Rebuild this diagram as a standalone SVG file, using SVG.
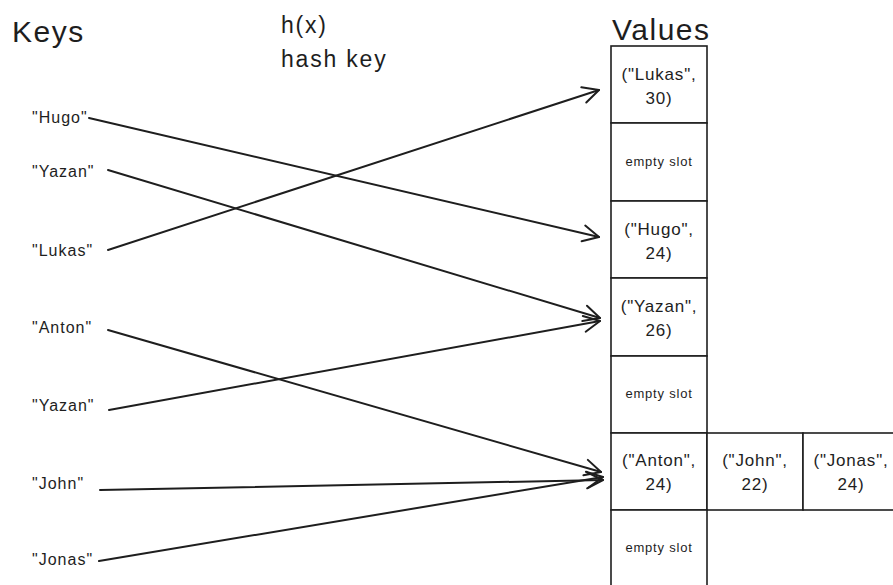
<svg xmlns="http://www.w3.org/2000/svg" width="893" height="585" viewBox="0 0 893 585">
<defs>
<marker id="ah" viewBox="0 0 20 20" refX="18" refY="10" markerWidth="20" markerHeight="20" markerUnits="userSpaceOnUse" orient="auto">
<path d="M2,2 L18,10 L2,18" fill="none" stroke="#1e1e1e" stroke-width="2" stroke-linecap="round" stroke-linejoin="round"/>
</marker>
<style>
text{font-family:"Liberation Sans","DejaVu Sans",sans-serif;fill:#1e1e1e}
.title{font-size:30px;letter-spacing:1.5px}
.hdr{font-size:23px;letter-spacing:1.8px}
.key{font-size:16px;letter-spacing:1px}
.val{font-size:17px;letter-spacing:0.8px;text-anchor:middle}
.empty{font-size:13px;letter-spacing:0.8px;text-anchor:middle}
.cell{fill:#fff;stroke:#1e1e1e;stroke-width:1.6}
.conn line{stroke:#1e1e1e;stroke-width:2;stroke-linecap:round;marker-end:url(#ah)}
</style>
</defs>
<rect width="893" height="585" fill="#fff"/>
<text class="title" x="12" y="42">Keys</text>
<text class="hdr" x="281" y="33">h(x)</text>
<text class="hdr" x="281" y="67">hash key</text>
<text class="title" x="612" y="40">Values</text>

<g id="k-hugo"><text class="key" x="32" y="123">"Hugo"</text></g>
<g id="k-yazan1"><text class="key" x="32" y="177">"Yazan"</text></g>
<g id="k-lukas"><text class="key" x="32" y="256">"Lukas"</text></g>
<g id="k-anton"><text class="key" x="32" y="333">"Anton"</text></g>
<g id="k-yazan2"><text class="key" x="32" y="411">"Yazan"</text></g>
<g id="k-john"><text class="key" x="32" y="489">"John"</text></g>
<g id="k-jonas"><text class="key" x="32" y="565">"Jonas"</text></g>

<g id="v0"><rect class="cell" x="611" y="46" width="96" height="77"/><text class="val" x="659" y="80">("Lukas",</text><text class="val" x="659" y="104">30)</text></g>
<g id="v1"><rect class="cell" x="611" y="123" width="96" height="78"/><text class="empty" x="659" y="166">empty slot</text></g>
<g id="v2"><rect class="cell" x="611" y="201" width="96" height="77"/><text class="val" x="659" y="235">("Hugo",</text><text class="val" x="659" y="259">24)</text></g>
<g id="v3"><rect class="cell" x="611" y="278" width="96" height="78"/><text class="val" x="659" y="312">("Yazan",</text><text class="val" x="659" y="336">26)</text></g>
<g id="v4"><rect class="cell" x="611" y="356" width="96" height="77"/><text class="empty" x="659" y="398">empty slot</text></g>
<g id="v5"><rect class="cell" x="611" y="433" width="96" height="77"/><text class="val" x="659" y="466">("Anton",</text><text class="val" x="659" y="490">24)</text></g>
<g id="v5b"><rect class="cell" x="707" y="433" width="96" height="77"/><text class="val" x="755" y="466">("John",</text><text class="val" x="755" y="490">22)</text></g>
<g id="v5c"><rect class="cell" x="803" y="433" width="96" height="77"/><text class="val" x="851" y="466">("Jonas",</text><text class="val" x="851" y="490">24)</text></g>
<g id="v6"><rect class="cell" x="611" y="510" width="96" height="80"/><text class="empty" x="659" y="552">empty slot</text></g>

<g id="connectors" class="conn">
<line x1="89" y1="118" x2="599" y2="237"/>
<line x1="108" y1="170" x2="600" y2="318"/>
<line x1="108" y1="250" x2="599" y2="90"/>
<line x1="108" y1="330" x2="601" y2="472"/>
<line x1="109" y1="410" x2="600" y2="321"/>
<line x1="100" y1="490" x2="603" y2="480"/>
<line x1="99" y1="561" x2="603" y2="477"/>
</g>
</svg>
